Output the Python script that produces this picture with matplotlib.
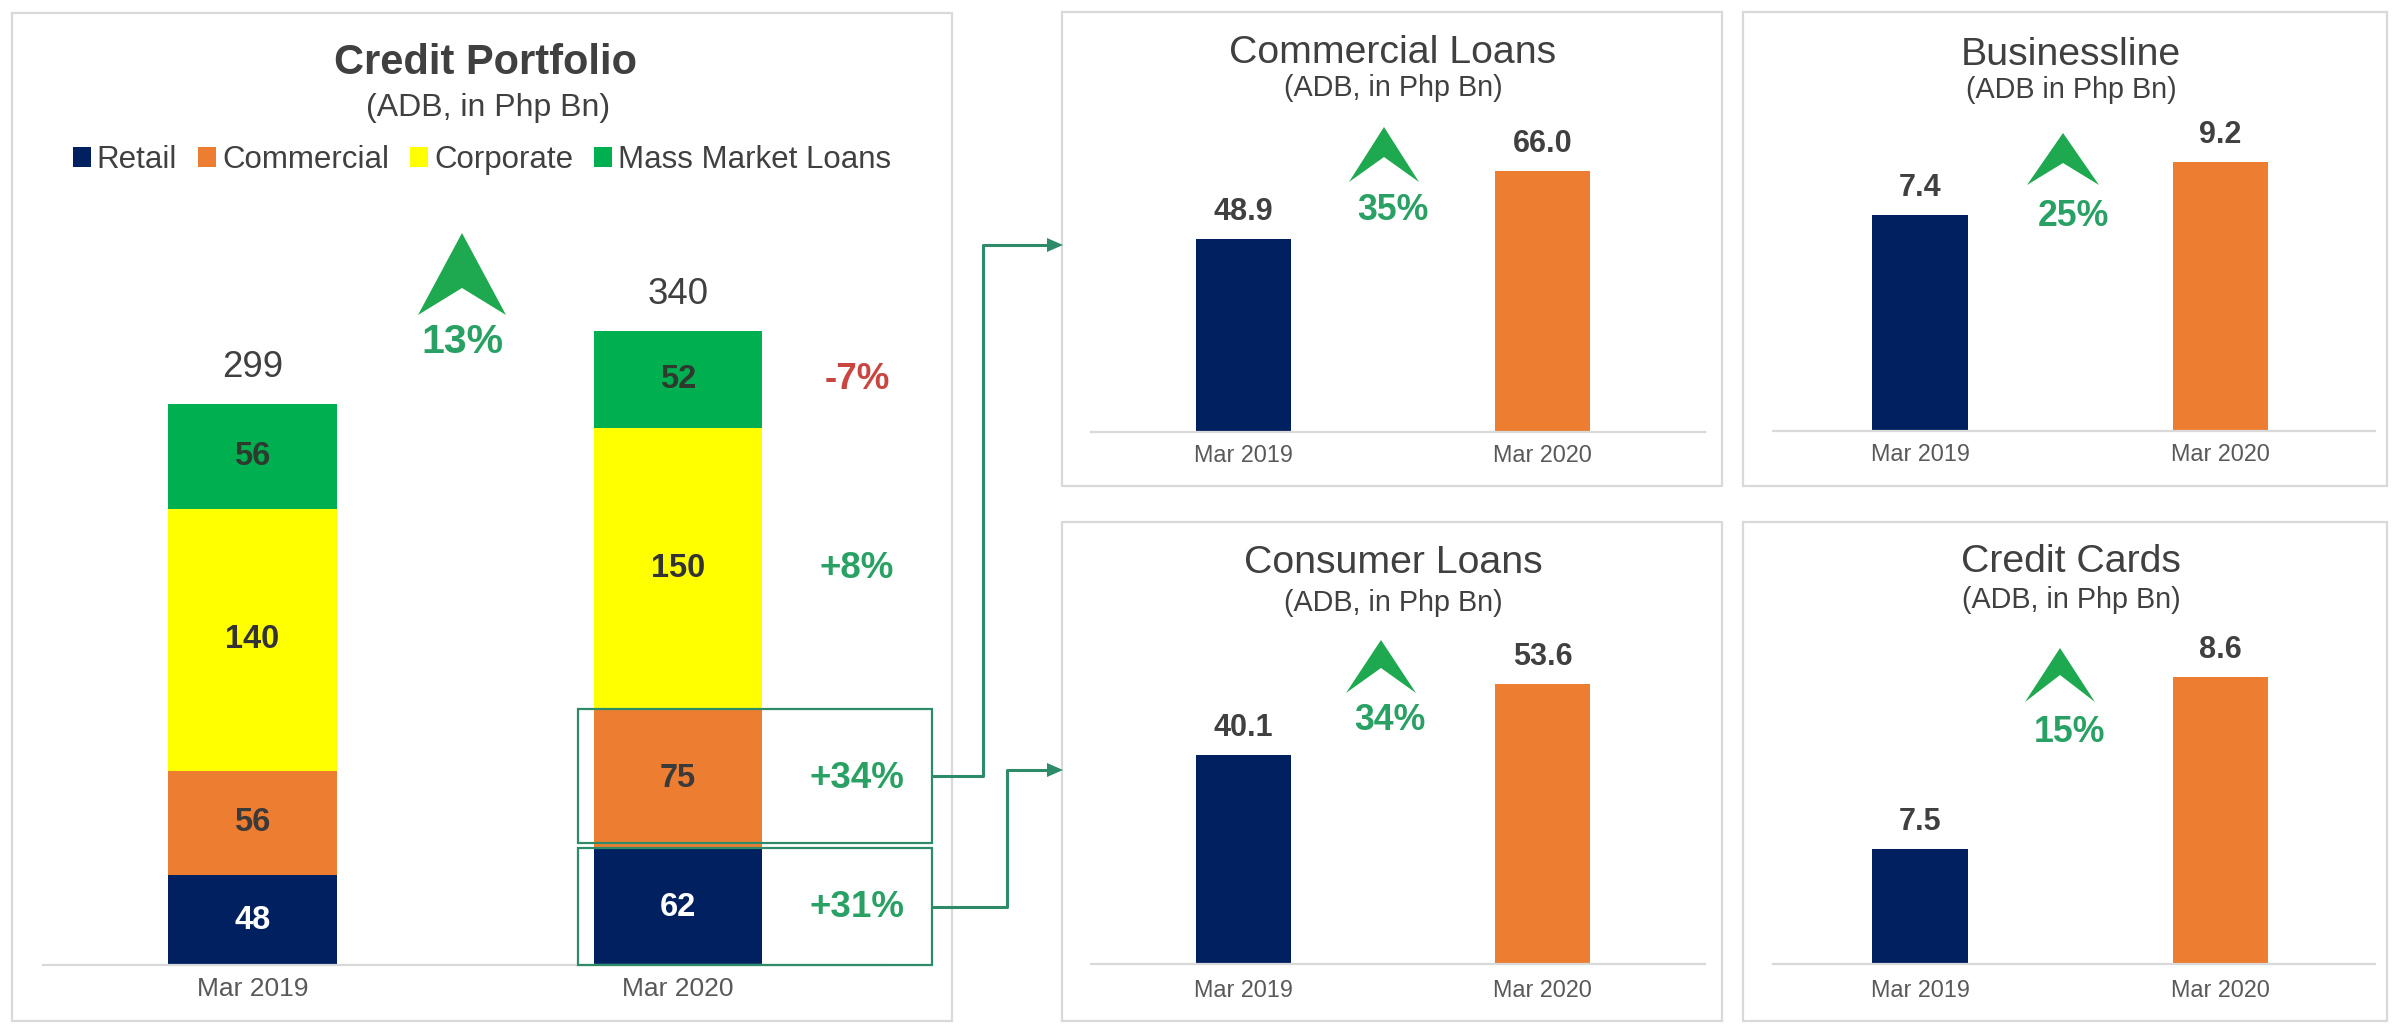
import matplotlib
matplotlib.use("Agg")
import matplotlib.pyplot as plt
from matplotlib.patches import Rectangle, Polygon, Patch
from matplotlib.lines import Line2D

plt.rcParams['font.family'] = ['Liberation Sans', 'DejaVu Sans']

# ---------------- data ----------------
periods = ["Mar 2019", "Mar 2020"]
segments = ["Retail", "Commercial", "Corporate", "Mass Market Loans"]
retail = [48, 62]
commercial = [56, 75]
corporate = [140, 150]
mass_market = [56, 52]
portfolio_totals = [299, 340]
portfolio_growth = "13%"
segment_growth = ["+31%", "+34%", "+8%", "-7%"]   # retail, commercial, corporate, mass market

commercial_loans = [48.9, 66.0]
businessline = [7.4, 9.2]
consumer_loans = [40.1, 53.6]
credit_cards = [7.5, 8.6]
small_titles = ["Commercial Loans", "Businessline", "Consumer Loans", "Credit Cards"]
small_subtitles = ["(ADB, in Php Bn)", "(ADB in Php Bn)", "(ADB, in Php Bn)", "(ADB, in Php Bn)"]
small_growth = ["35%", "25%", "34%", "15%"]

# ---------------- style ----------------
NAVY = '#002060'
ORANGE = '#ED7D31'
YELLOW = '#FFFF00'
GREEN = '#00B050'
ARROW_GREEN = '#1EA84F'
PCT_GREEN = '#2AA164'
RED = '#C9453F'
TEXT = '#404040'
TICK = '#595959'
BORDER = '#D9D9D9'
LINK = '#2E8B67'

W, H, DPI = 2392, 1029, 100
fig = plt.figure(figsize=(W / DPI, H / DPI), dpi=DPI)
fig.patch.set_facecolor('white')


def fx(px):
    return px / W


def fy(py):
    return 1 - py / H


def axes_px(x0, x1, y_top, y_base):
    return fig.add_axes([fx(x0), fy(y_base), (x1 - x0) / W, (y_base - y_top) / H])


def panel_box(x0, x1, y0, y1):
    fig.add_artist(Rectangle((fx(x0), fy(y1)), (x1 - x0) / W, (y1 - y0) / H,
                             transform=fig.transFigure, fill=False,
                             ec=BORDER, lw=1.6))


def chevron(cx, apex, notch, base, hw):
    pts = [(fx(cx), fy(apex)), (fx(cx + hw), fy(base)),
           (fx(cx), fy(notch)), (fx(cx - hw), fy(base))]
    fig.add_artist(Polygon(pts, closed=True, transform=fig.transFigure,
                           fc=ARROW_GREEN, ec='none'))


def ftext(x, y, s, **kw):
    kw.setdefault('ha', 'center')
    kw.setdefault('va', 'center')
    fig.text(fx(x), fy(y), s, **kw)


def style_axes(ax, pad):
    for side in ('top', 'left', 'right'):
        ax.spines[side].set_visible(False)
    ax.spines['bottom'].set_color(BORDER)
    ax.spines['bottom'].set_linewidth(1.6)
    ax.set_yticks([])
    ax.tick_params(axis='x', length=0, pad=pad, labelcolor=TICK)
    ax.patch.set_alpha(0)


# ---------------- panel borders ----------------
panel_box(12, 952, 13, 1021)
panel_box(1062, 1722, 12, 486)
panel_box(1743, 2387, 12, 486)
panel_box(1062, 1722, 522, 1021)
panel_box(1743, 2387, 522, 1021)

# ---------------- credit portfolio (stacked) ----------------
base_y, scale = 965, 1.87
ax = axes_px(43, 888, 180, base_y)
ax.set_xlim(-0.4924, 1.4935)
ax.set_ylim(0, (base_y - 180) / scale)
xs = [0, 1]
bar_w = 0.397

stack = [retail, commercial, corporate, mass_market]
fills = [NAVY, ORANGE, YELLOW, GREEN]
label_colors = ['white', '#3a3a3a', '#333333', '#2f3a2f']
bottom = [0, 0]
centers = []
for vals, fc, tc in zip(stack, fills, label_colors):
    ax.bar(xs, vals, width=bar_w, bottom=bottom, color=fc, edgecolor='none')
    seg_c = []
    for i, v in enumerate(vals):
        c = bottom[i] + v / 2
        seg_c.append(c)
        ax.text(xs[i], c, f"{v}", ha='center', va='center', fontsize=23.5,
                fontweight='bold', color=tc)
    centers.append(seg_c)
    bottom = [b + v for b, v in zip(bottom, vals)]

for i, t in enumerate(portfolio_totals):
    ax.annotate(f"{t}", (xs[i], bottom[i]), xytext=(0, 26), textcoords='offset points',
                ha='center', va='center', fontsize=26.3, color=TEXT)

for k, g in enumerate(segment_growth):
    ax.text(1.4207, centers[k][1], g, ha='center', va='center', fontsize=26.5,
            fontweight='bold', color=RED if g.startswith('-') else PCT_GREEN)

ax.set_xticks(xs, periods)
style_axes(ax, pad=9)
ax.tick_params(axis='x', labelsize=19)

# highlight boxes around the 2020 commercial and retail segments
bx0, bx1 = 0.765, 1.597
box_com = (retail[1] + 3, retail[1] + commercial[1])
box_ret = (0, retail[1] + 0.5)
for y0, y1 in (box_com, box_ret):
    ax.add_patch(Rectangle((bx0, y0), bx1 - bx0, y1 - y0, fill=False, ec=LINK,
                           lw=1.6, clip_on=False, zorder=5))

# title and legend
ftext(485, 63, "Credit Portfolio", fontsize=30, fontweight='bold', color=TEXT)
ftext(488, 108, "(ADB, in Php Bn)", fontsize=23, color=TEXT)
handles = [Patch(fc=c, ec='none', label=l) for c, l in zip(fills, segments)]
fig.legend(handles=handles, loc='center', bbox_to_anchor=(fx(482), fy(160)),
           ncol=4, frameon=False, fontsize=22.5, handlelength=0.58,
           handleheight=0.65, handletextpad=0.19, columnspacing=0.67,
           borderpad=0, labelcolor=TEXT)

chevron(462, 233, 288, 315, 44)
ftext(462, 342, portfolio_growth, fontsize=29.5, fontweight='bold', color=PCT_GREEN)

# ---------------- connectors to the detail panels ----------------
to_fig = fig.transFigure.inverted()


def box_anchor(y0, y1):
    return to_fig.transform(ax.transData.transform((bx1, (y0 + y1) / 2)))


def connector(start, elbow_x, end_y, tip_x):
    sx, sy = start
    ex, ey = fx(elbow_x), fy(end_y)
    tx = fx(tip_x)
    fig.add_artist(Line2D([sx, ex, ex, tx - fx(14)], [sy, sy, ey, ey],
                          transform=fig.transFigure, color=LINK, lw=2.2))
    head = [(tx, ey), (tx - fx(16), ey + 7 / H), (tx - fx(16), ey - 7 / H)]
    fig.add_artist(Polygon(head, closed=True, transform=fig.transFigure,
                           fc=LINK, ec='none'))


connector(box_anchor(*box_com), 983, 245, 1063)
connector(box_anchor(*box_ret), 1007, 770, 1063)

# ---------------- detail panels ----------------
small_specs = [
    # values, axes x-range, bar centres, baseline, px per unit, y-min,
    # title y, subtitle y, title x, chevron (cx, apex, notch, base, hw), growth pos
    (commercial_loans, (1091, 1705), (1243.5, 1542.5), 432, 3.95, 0.0,
     53, 88, 1393, (1384, 127, 157, 182, 35), (1393, 210)),
    (businessline, (1773, 2375), (1920, 2220.5), 431, 29.2, 0.0,
     55, 90, 2071, (2063, 133, 163, 185, 36), (2073, 217)),
    (consumer_loans, (1091, 1705), (1243.5, 1542.5), 964, 5.22, 0.0,
     563, 603, 1393, (1381, 640, 668, 693, 35), (1390, 720)),
    (credit_cards, (1773, 2375), (1920, 2220.5), 964, 156.4, 6.765,
     562, 600, 2071, (2060, 648, 675, 702, 35), (2070, 732)),
]

for k, spec in enumerate(small_specs):
    (vals, (ax0, ax1), (c0, c1), base, ppu, ymin,
     ty, sy, tx, chev, (gx, gy)) = spec
    top_px = base - 330
    sax = axes_px(ax0, ax1, top_px, base)
    unit = c1 - c0
    sax.set_xlim(-(c0 - ax0) / unit, 1 + (ax1 - c1) / unit)
    sax.set_ylim(ymin, ymin + (base - top_px) / ppu)
    sax.bar(xs, vals, width=95.5 / unit, color=[NAVY, ORANGE], edgecolor='none')
    for i, v in enumerate(vals):
        sax.annotate(f"{v:.1f}", (xs[i], v), xytext=(0, 19.4), textcoords='offset points',
                     ha='center', va='center', fontsize=22, fontweight='bold', color=TEXT)
    sax.set_xticks(xs, periods)
    style_axes(sax, pad=9 if base < 500 else 11)
    sax.tick_params(axis='x', labelsize=16.8)

    ftext(tx, ty, small_titles[k], fontsize=28.3, color=TEXT)
    ftext(tx, sy, small_subtitles[k], fontsize=20.7, color=TEXT)
    chevron(*chev)
    ftext(gx, gy, small_growth[k], fontsize=25.7, fontweight='bold', color=PCT_GREEN)

fig.savefig("out.png", dpi=DPI, facecolor='white')
